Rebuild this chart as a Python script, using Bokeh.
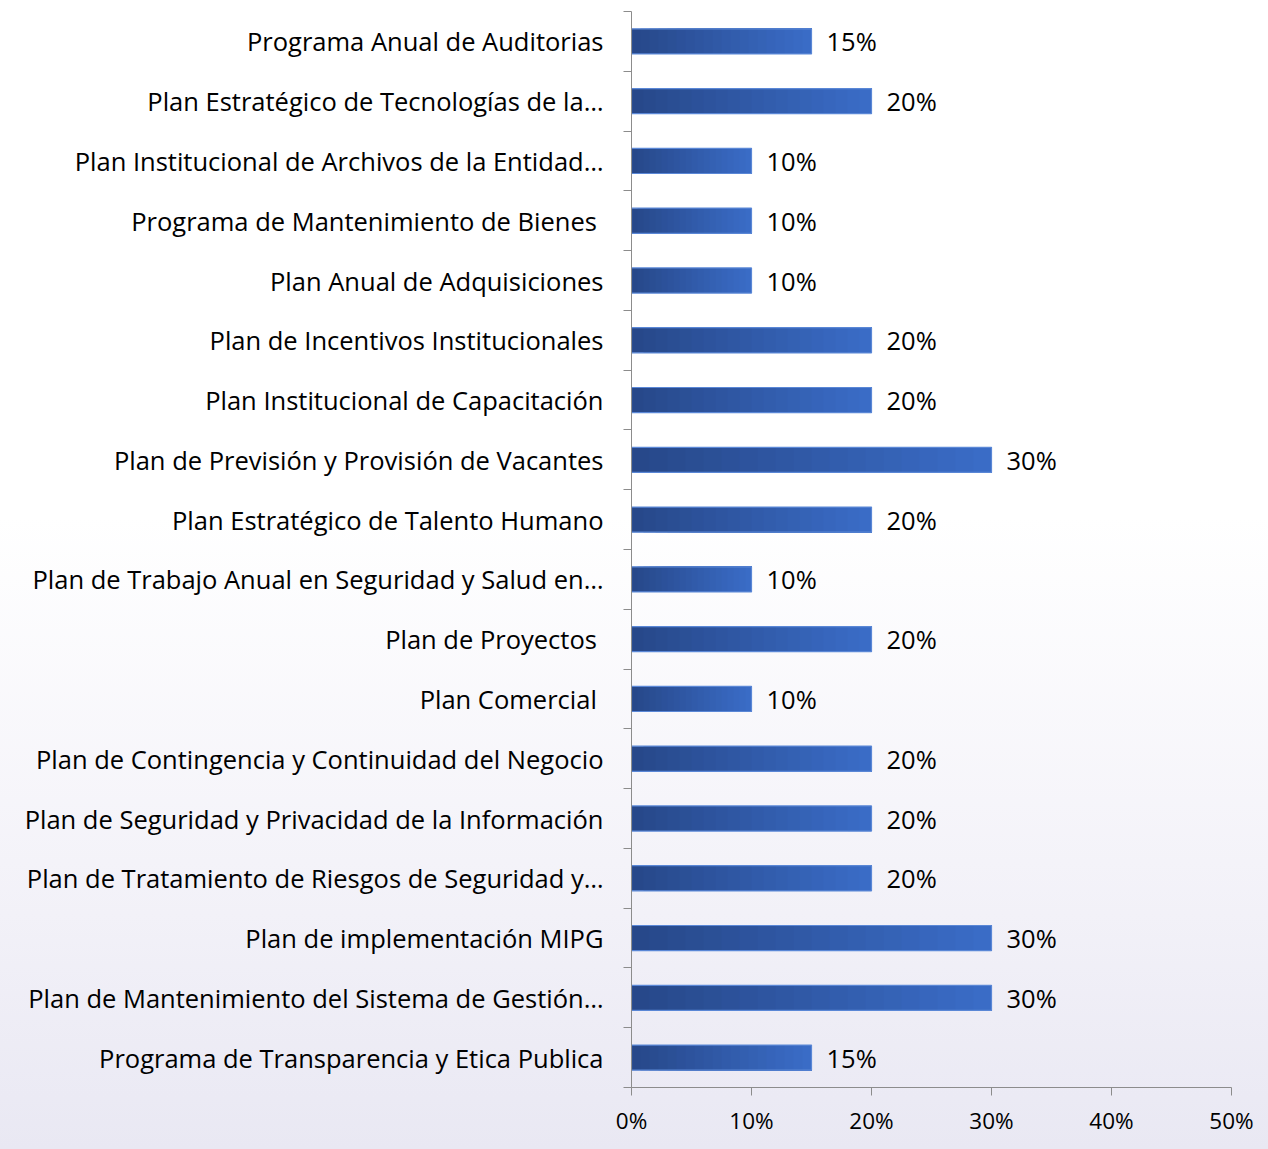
from bokeh.plotting import figure
from bokeh.models import Range1d, FixedTicker, NumeralTickFormatter, ColumnDataSource
from bokeh.core.properties import value
from bokeh.embed import file_html
from bokeh.resources import INLINE

categories = [
    "Programa Anual de Auditorias",
    "Plan Estratégico de Tecnologías de la…",
    "Plan Institucional de Archivos de la Entidad…",
    "Programa de Mantenimiento de Bienes ",
    "Plan Anual de Adquisiciones",
    "Plan de Incentivos Institucionales",
    "Plan Institucional de Capacitación",
    "Plan de Previsión y Provisión de Vacantes",
    "Plan Estratégico de Talento Humano",
    "Plan de Trabajo Anual en Seguridad y Salud en…",
    "Plan de Proyectos ",
    "Plan Comercial ",
    "Plan de Contingencia y Continuidad del Negocio",
    "Plan de Seguridad y Privacidad de la Información",
    "Plan de Tratamiento de Riesgos de Seguridad y…",
    "Plan de implementación MIPG",
    "Plan de Mantenimiento del Sistema de Gestión…",
    "Programa de Transparencia y Etica Publica",
]
values = [0.15, 0.20, 0.10, 0.10, 0.10, 0.20, 0.20, 0.30, 0.20, 0.10,
          0.20, 0.10, 0.20, 0.20, 0.20, 0.30, 0.30, 0.15]
x_ticks = [0.0, 0.1, 0.2, 0.3, 0.4, 0.5]

FONT = "Open Sans"
n = len(categories)
centers = [i + 0.5 for i in range(n)]
bounds = [float(i) for i in range(n + 1)]

p = figure(width=1268, height=1149, output_backend="svg", toolbar_location=None,
           x_range=Range1d(0, 0.5), y_range=Range1d(n, 0),
           min_border_left=631, min_border_right=37, min_border_top=11, min_border_bottom=62)
p.background_fill_alpha = 0
p.border_fill_alpha = 0
p.outline_line_color = None
p.styles = {"background": "linear-gradient(to bottom, #ffffff 0%, #ffffff 45%, #f4f3f9 75%, #e9e8f3 100%)"}
p.grid.visible = False

# gradient bars: overlapping layers with interpolated colours (no seams)
def lerp(c1, c2, t):
    return "#%02x%02x%02x" % tuple(int(round(a + (b - a) * t)) for a, b in zip(c1, c2))

dark = (0x26, 0x47, 0x88)
light = (0x3b, 0x6d, 0xc8)
K = 20
for k in range(K):
    lefts = [v * k / K for v in values]
    p.hbar(y=centers, left=lefts, right=values, height=0.42,
           fill_color=lerp(dark, light, (k + 0.5) / K), line_color=None)
p.hbar(y=centers, left=0, right=values, height=0.42, fill_color=None,
       line_color="#5a87d6", line_width=1.2)

src = ColumnDataSource(dict(x=values, y=centers, t=["%d%%" % round(v * 100) for v in values]))
p.text(x="x", y="y", text="t", source=src, x_offset=15, text_baseline="middle",
       text_align="left", text_font=value(FONT), text_font_size="25.5px", text_color="#000000")

# y axis
ya = p.yaxis[0]
ya.ticker = FixedTicker(ticks=centers, minor_ticks=bounds)
ya.major_label_overrides = {c: name for c, name in zip(centers, categories)}
ya.major_tick_out = 0
ya.major_tick_in = 0
ya.minor_tick_out = 8
ya.minor_tick_in = 0
ya.minor_tick_line_color = "#8c8c8c"
ya.axis_line_color = "#8c8c8c"
ya.major_label_text_font = FONT
ya.major_label_text_font_size = "25.5px"
ya.major_label_text_color = "#000000"
ya.major_label_standoff = 20

xa = p.xaxis[0]
xa.ticker = FixedTicker(ticks=x_ticks, minor_ticks=[])
xa.formatter = NumeralTickFormatter(format="0%")
xa.major_tick_out = 8
xa.major_tick_in = 0
xa.major_tick_line_color = "#8c8c8c"
xa.axis_line_color = "#8c8c8c"
xa.major_label_text_font = FONT
xa.major_label_text_font_size = "22.5px"
xa.major_label_text_color = "#000000"
xa.major_label_standoff = 9

open("out.html", "w").write(file_html(p, INLINE))
